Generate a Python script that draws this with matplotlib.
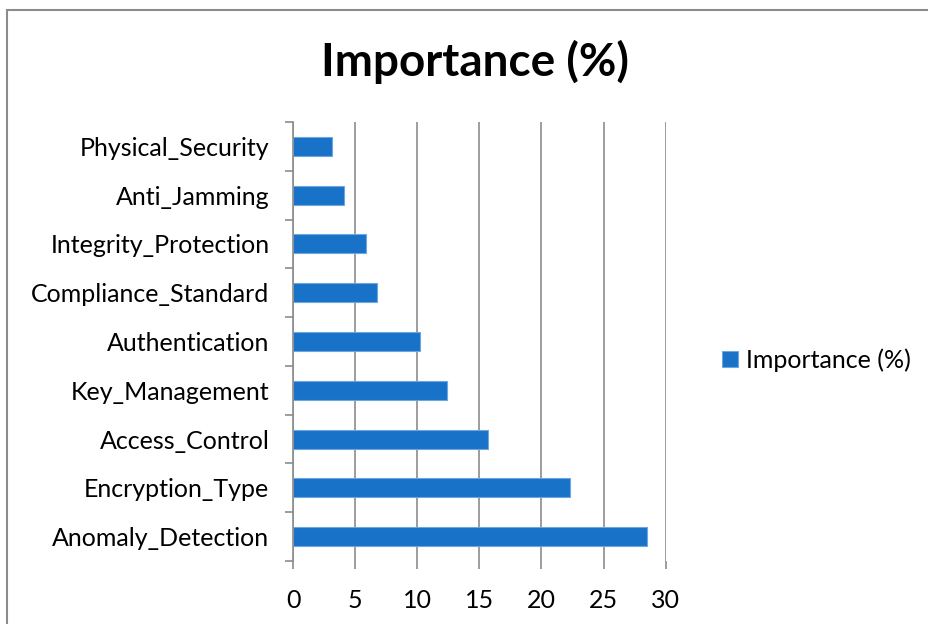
import matplotlib.pyplot as plt
from matplotlib.patches import Rectangle

categories = ['Anomaly_Detection', 'Encryption_Type', 'Access_Control',
              'Key_Management', 'Authentication', 'Compliance_Standard',
              'Integrity_Protection', 'Anti_Jamming', 'Physical_Security']
importance = [28.5, 22.3, 15.7, 12.4, 10.2, 6.8, 5.9, 4.1, 3.1]
x_ticks = [0, 5, 10, 15, 20, 25, 30]

bar_color = '#1872C8'
grid_color = '#8C8C8C'
font = 'Lato'

fig = plt.figure(figsize=(9.29, 6.24), dpi=100)
ax = fig.add_axes([0.3154, 0.101, 0.4012, 0.7035])

ypos = list(range(len(categories)))
ax.barh(ypos, importance, height=0.39, color=bar_color,
        edgecolor='#6FA6DE', linewidth=0.8, zorder=3, label='Importance (%)')

ax.set_xlim(0, 30)
ax.set_ylim(-0.5, len(categories) - 0.5)
ax.set_xticks(x_ticks)
ax.set_xticklabels([str(t) for t in x_ticks], fontsize=18, family=font)
ax.set_yticks(ypos)
ax.set_yticklabels(categories, fontsize=18, family=font)
ax.tick_params(axis='y', length=0, pad=17)
ax.tick_params(axis='x', length=6, width=1.2, color=grid_color, pad=14)

# category boundary ticks on the y axis
ax.set_yticks([i - 0.5 for i in range(len(categories) + 1)], minor=True)
ax.tick_params(axis='y', which='minor', length=6, width=1.2, color=grid_color)

ax.grid(axis='x', color=grid_color, linewidth=1.2, zorder=0)
for side in ['top', 'right', 'bottom']:
    ax.spines[side].set_visible(False)
ax.spines['left'].set_color(grid_color)
ax.spines['left'].set_linewidth(1.2)
ax.spines['left'].set_zorder(4)

fig.text(0.511, 0.9, 'Importance (%)', ha='center', va='center',
         fontsize=33, fontweight='bold', family=font)

leg = fig.legend(loc='center left', bbox_to_anchor=(0.753, 0.423), frameon=False,
                 prop={'family': font, 'size': 18}, handlelength=0.65,
                 handleheight=0.65, handletextpad=0.3)

# chart area border
fig.patches.append(Rectangle((0.0075, -0.1), 1.2, 1.084, transform=fig.transFigure,
                             fill=False, edgecolor='#8C8C8C', linewidth=1.5))

fig.savefig('out.png', dpi=100)
